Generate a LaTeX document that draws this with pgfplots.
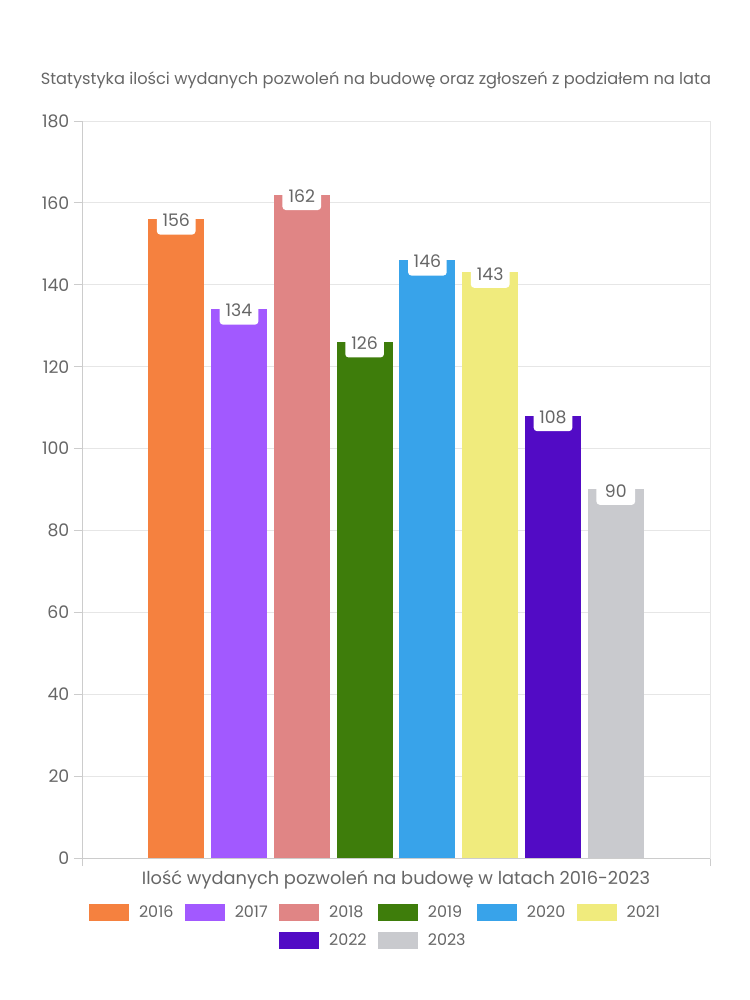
\documentclass[border=0pt]{standalone}
\usepackage{pgfplots}
\pgfplotsset{compat=1.18}
\usepackage{fontspec}
\setmainfont{Poppins}
\definecolor{c16}{HTML}{F5813F}
\definecolor{c17}{HTML}{A259FF}
\definecolor{c18}{HTML}{E08585}
\definecolor{c19}{HTML}{3E7D0B}
\definecolor{c20}{HTML}{38A3EA}
\definecolor{c21}{HTML}{F0EB7D}
\definecolor{c22}{HTML}{520BC5}
\definecolor{c23}{HTML}{C9CACE}
\definecolor{txt}{HTML}{666666}
\definecolor{gridc}{HTML}{E6E6E6}
\definecolor{axc}{HTML}{CCCCCC}
\pgfplotsset{
  myleg/.style={legend image code/.code={\fill[##1] (0bp,-6.4bp) rectangle (30bp,6.4bp);}},
  mybar/.style={ybar, bar width=0.892, bar shift=0pt, fill=#1, draw=none, myleg},
}
\begin{document}
\begin{tikzpicture}
\path[use as bounding box] (-61.5bp,-106.5bp) rectangle (501bp,643.5bp);
\begin{axis}[
  at={(0,0)}, anchor=south west,
  scale only axis, width=471bp, height=552.75bp,
  xmin=-1.5, xmax=8.5, ymin=0, ymax=180,
  enlargelimits=false,
  ytick={0,20,...,180},
  xtick={-1.5,8.5}, xticklabels={},
  xtick pos=bottom, ytick pos=left,
  tick align=outside, major tick length=6bp,
  tick style={draw=axc, line width=0.6pt},
  axis line style={draw=gridc, line width=0.6pt},
  ymajorgrids, grid style={draw=gridc, line width=0.6pt},
  /pgf/number format/assume math mode=true,
  ticklabel style={font=\fontsize{13}{15}\selectfont, text=txt},
  title={Statystyka ilości wydanych pozwoleń na budowę oraz zgłoszeń z podziałem na lata},
  title style={at={(0.468,1)}, anchor=center, yshift=24.75bp, font=\fontsize{12.2}{14}\selectfont, text=txt},
  xlabel={Ilość wydanych pozwoleń na budowę w latach 2016-2023},
  xlabel style={at={(0.5,0)}, anchor=center, yshift=-16.5bp, font=\fontsize{13.4}{15}\selectfont, text=txt},
  nodes near coords,
  nodes near coords style={anchor=center, yshift=-1bp, fill=white, rounded corners=2.5bp,
    minimum width=29bp, minimum height=21bp, inner sep=1bp, text=txt, font=\fontsize{13}{15}\selectfont},
  legend columns=6,
  legend style={at={(0.468,0)}, anchor=north, yshift=-31.5bp, draw=none, fill=none,
    font=\fontsize{12}{14}\selectfont, text=txt, row sep=7bp,
    /tikz/every odd column/.append style={column sep=5.5bp},
    /tikz/every even column/.append style={column sep=6.5bp}},
  legend cell align=left,
]
\addplot[mybar=c16] coordinates {(0,156)}; \addlegendentry{2016}
\addplot[mybar=c17] coordinates {(1,134)}; \addlegendentry{2017}
\addplot[mybar=c18] coordinates {(2,162)}; \addlegendentry{2018}
\addplot[mybar=c19] coordinates {(3,126)}; \addlegendentry{2019}
\addplot[mybar=c20] coordinates {(4,146)}; \addlegendentry{2020}
\addplot[mybar=c21] coordinates {(5,143)}; \addlegendentry{2021}
\addlegendimage{empty legend}\addlegendentry{}
\addlegendimage{empty legend}\addlegendentry{}
\addplot[mybar=c22] coordinates {(6,108)}; \addlegendentry{2022}
\addplot[mybar=c23] coordinates {(7,90)}; \addlegendentry{2023}
\end{axis}
\draw[axc, line width=0.6pt] (0,0) -- (0,552.75bp) (0,0) -- (471bp,0);
\end{tikzpicture}
\end{document}
